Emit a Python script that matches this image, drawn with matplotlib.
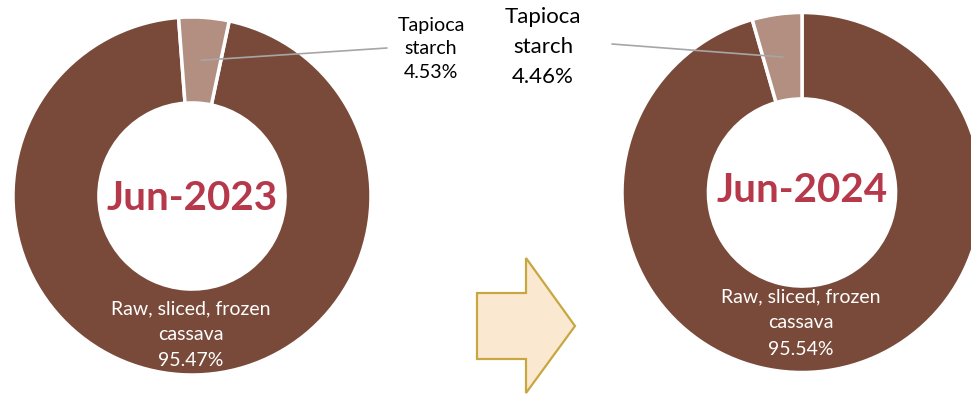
import matplotlib
matplotlib.use("Agg")
import matplotlib.pyplot as plt
from matplotlib.patches import Polygon, ConnectionPatch
from matplotlib.transforms import IdentityTransform
import numpy as np

plt.rcParams['font.family'] = ['Lato', 'DejaVu Sans']

# ---- data ----
categories = ["Raw, sliced, frozen\ncassava", "Tapioca\nstarch"]
periods = ["Jun-2023", "Jun-2024"]
shares_2023 = [95.47, 4.53]
shares_2024 = [95.54, 4.46]

colors = ["#794A39", "#B28F81"]
title_color = "#B5394B"

W, H = 971, 396
fig = plt.figure(figsize=(W / 100, H / 100), dpi=100)


def pie_axes(cx, cy, r):
    ax = fig.add_axes([(cx - r) / W, (H - cy - r) / H, 2 * r / W, 2 * r / H])
    ax.set_xlim(-1, 1)
    ax.set_ylim(-1, 1)
    ax.axis('off')
    return ax


ring_w = 0.48
specs = [
    dict(cx=192, cy=196, r=179, vals=shares_2023, start=78, title=periods[0],
         title_y=-0.015, inner_y=-0.775, tap_xy=(431, 49), tap_fs=14.1, tap_ls=1.5,
         lead_start=(387, 48)),
    dict(cx=802, cy=192.5, r=180, vals=shares_2024, start=90, title=periods[1],
         title_y=0.01, inner_y=-0.725, tap_xy=(543, 47), tap_fs=16, tap_ls=1.62,
         lead_start=(612, 44)),
]

for s in specs:
    ax = pie_axes(s['cx'], s['cy'], s['r'])
    wedges, _ = ax.pie(s['vals'], colors=colors, startangle=s['start'], counterclock=False,
                       radius=1, wedgeprops=dict(width=ring_w, edgecolor='white', linewidth=2.5))
    ax.set_xlim(-1, 1)
    ax.set_ylim(-1, 1)
    ax.text(0, s['title_y'], s['title'], ha='center', va='center', fontsize=29,
            fontweight='bold', color=title_color)
    ax.text(-0.005, s['inner_y'], f"{categories[0]}\n{s['vals'][0]:.2f}%", ha='center',
            va='center', fontsize=14, color='white', linespacing=1.65)
    # tapioca label + leader
    tx, ty = s['tap_xy']
    fig.text(tx / W, 1 - ty / H, f"{categories[1]}\n{s['vals'][1]:.2f}%", ha='center',
             va='center', fontsize=s['tap_fs'], color='black', linespacing=s['tap_ls'])
    w = wedges[1]
    th = np.deg2rad((w.theta1 + w.theta2) / 2)
    rm = 1 - ring_w / 2
    end = (rm * np.cos(th), rm * np.sin(th))
    lx, ly = s['lead_start']
    con = ConnectionPatch(xyA=(lx / W, 1 - ly / H), coordsA=fig.transFigure,
                          xyB=end, coordsB=ax.transData, color='#A6A6A6', lw=1.2)
    fig.add_artist(con)

# arrow between charts
arrow_pts = [(477, 293), (526, 293), (526, 258), (575, 326), (526, 393), (526, 359), (477, 359)]
arrow = Polygon([(x, H - y) for x, y in arrow_pts], closed=True, facecolor='#FBE8D1',
                edgecolor='#C8A740', linewidth=1.6, transform=IdentityTransform())
fig.add_artist(arrow)

fig.savefig("out.png", dpi=100)
